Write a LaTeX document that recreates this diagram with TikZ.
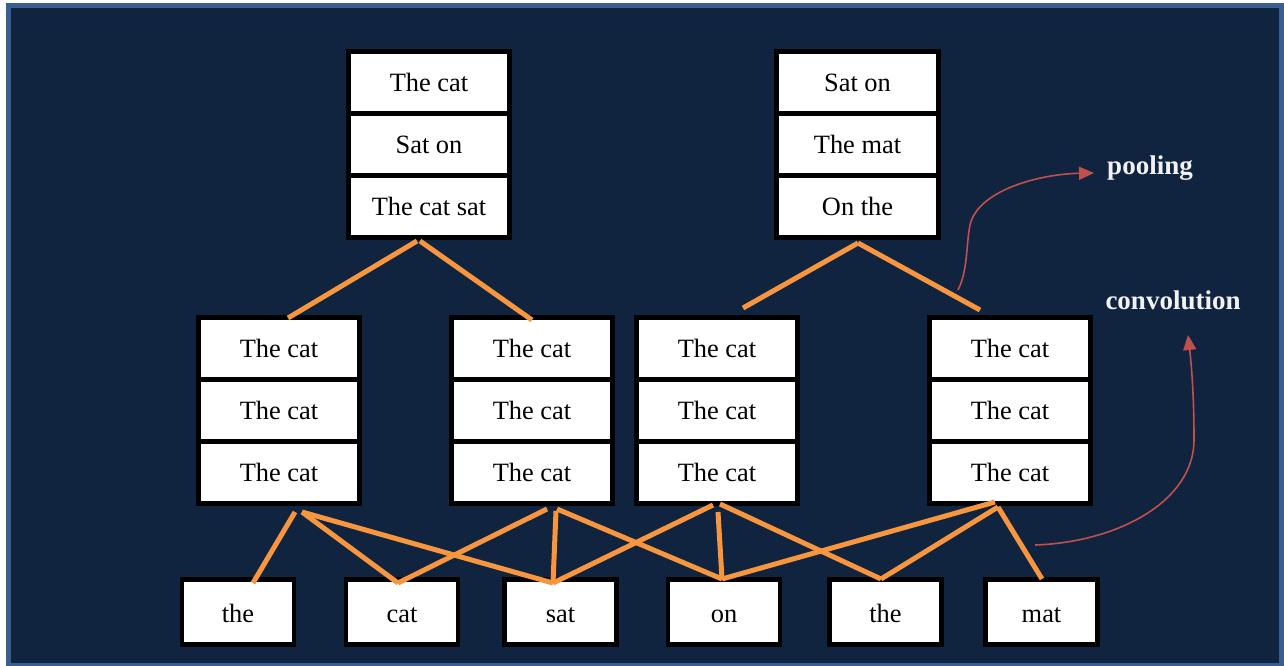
\documentclass[tikz,border=0pt]{standalone}
\usepackage{fontspec}
\setmainfont{Liberation Serif}
\usetikzlibrary{arrows.meta}
\definecolor{navy}{HTML}{11243F}
\definecolor{frameblue}{HTML}{3A5F8E}
\definecolor{lineorange}{HTML}{F7963F}
\definecolor{arrowred}{HTML}{C0504D}
\begin{document}
\begin{tikzpicture}[x=0.5pt,y=-0.5pt,
 cell/.style={draw=black,line width=2.4pt,fill=white,minimum width=80.8pt,minimum height=31pt,inner sep=0pt,outer sep=0pt,text height=11.5pt,text depth=2pt,font=\fontsize{13.2}{15}\selectfont},
 word/.style={cell,minimum width=56pt,minimum height=32.6pt,text height=12pt,text depth=1.5pt},
 link/.style={draw=lineorange,line width=2.5pt},
 note/.style={draw=arrowred,line width=0.8pt,-{Triangle[length=7.5pt,width=6.5pt]}},
 lbl/.style={text=white!95!black,font=\fontsize{13.5}{16}\selectfont\bfseries}]
\useasboundingbox (0,0) rectangle (1284,665);
\fill[white] (0,0) rectangle (1284,665);
\fill[frameblue] (6,3) rectangle (1290,670);
\fill[navy] (11,8) rectangle (1279,663);

% top stacks
\node[cell] (ta1) at (429,82.4) {The cat};
\node[cell] (ta2) at (429,144.4) {Sat on};
\node[cell] (ta3) at (429,206.4) {The cat sat};
\node[cell] (tb1) at (857.5,82.4) {Sat on};
\node[cell] (tb2) at (857.5,144.4) {The mat};
\node[cell] (tb3) at (857.5,206.4) {On the};

% middle stacks
\foreach \n/\x in {ma/279,mb/532,mc/717,md/1010}{
  \node[cell] (\n1) at (\x,348.4) {The cat};
  \node[cell] (\n2) at (\x,410.4) {The cat};
  \node[cell] (\n3) at (\x,472.4) {The cat};
}

% words
\node[word] (w1) at (238,612) {the};
\node[word] (w2) at (402,612) {cat};
\node[word] (w3) at (560.5,612) {sat};
\node[word] (w4) at (724,612) {on};
\node[word] (w5) at (885.5,612) {the};
\node[word] (w6) at (1041.5,612) {mat};

% attachment points
\coordinate (taL) at (417,241);
\coordinate (taR) at (420,241);
\coordinate (tbA) at (858,243);
\coordinate (maT) at (288,318);
\coordinate (mbT) at (532,320);
\coordinate (mcT) at (743,308);
\coordinate (mdT) at (980,310);

\coordinate (maA) at (295,512);
\coordinate (maB) at (302,512);
\coordinate (mbA) at (547,509);
\coordinate (mbB) at (556,511);
\coordinate (mbC) at (557,509);
\coordinate (mcA) at (713,505);
\coordinate (mcB) at (718,512);
\coordinate (mcC) at (720,504);
\coordinate (mdA) at (995,502);
\coordinate (mdB) at (998,507);

\coordinate (w1T) at (253,583);
\coordinate (w2T) at (398,583);
\coordinate (w3T) at (553,583);
\coordinate (w4T) at (722,579);
\coordinate (w5T) at (881,579);
\coordinate (w6T) at (1042,579);

% pooling connectors
\draw[link] (taL) -- (maT);
\draw[link] (taR) -- (mbT);
\draw[link] (tbA) -- (mcT);
\draw[link] (tbA) -- (mdT);

% convolution connectors
\draw[link] (maA) -- (w1T);
\draw[link] (maB) -- (w2T);
\draw[link] (maB) -- (w3T);
\draw[link] (mbA) -- (w2T);
\draw[link] (mbB) -- (w3T);
\draw[link] (mbC) -- (w4T);
\draw[link] (mcA) -- (w3T);
\draw[link] (mcB) -- (w4T);
\draw[link] (mcC) -- (w5T);
\draw[link] (mdA) -- (w4T);
\draw[link] (mdB) -- (w5T);
\draw[link] (mdB) -- (w6T);

% labels
\node[lbl] (pool) at (1150,168) {pooling};
\node[lbl] (conv) at (1173,300) {convolution};

\coordinate (pS) at (958,290);
\coordinate (pM) at (970,225);
\coordinate (pE) at (1094,173);
\draw[note] (pS) .. controls (968,270) and (966,245) .. (pM) .. controls (978,190) and (1040,174) .. (pE);

\coordinate (cS) at (1035,545);
\coordinate (cM) at (1194,440);
\coordinate (cE) at (1188,335);
\draw[note] (cS) .. controls (1120,542) and (1194,500) .. (cM) .. controls (1194,400) and (1192,370) .. (cE);
\end{tikzpicture}
\end{document}
